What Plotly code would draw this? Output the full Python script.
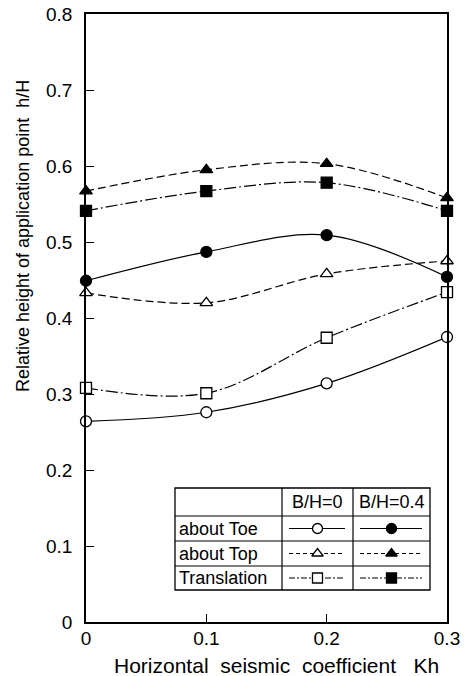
import plotly.graph_objects as go

# ---- data ----
kh = [0.0, 0.1, 0.2, 0.3]
toe_0 = [0.264, 0.276, 0.314, 0.375]
top_0 = [0.433, 0.420, 0.458, 0.475]
trans_0 = [0.308, 0.301, 0.374, 0.434]
toe_04 = [0.449, 0.487, 0.509, 0.454]
top_04 = [0.567, 0.595, 0.603, 0.558]
trans_04 = [0.541, 0.567, 0.578, 0.541]

y_ticks = [0, 0.1, 0.2, 0.3, 0.4, 0.5, 0.6, 0.7, 0.8]
y_ticktext = ["0", "0.1", "0.2", "0.3", "0.4", "0.5", "0.6", "0.7", "0.8"]
x_ticks = [0, 0.1, 0.2, 0.3]
x_ticktext = ["0", "0.1", "0.2", "0.3"]

row_labels = ["about Toe", "about Top", "Translation"]
col_labels = ["B/H=0", "B/H=0.4"]

FONT = "Liberation Sans, Arial, sans-serif"
W, H = 474, 676
L, R, T, B = 86, 447, 14, 622  # plot area in pixels

DASH_TOE = "solid"
DASH_TOP = "8px,4px"
DASH_TR = "12px,3px,2px,3px"

# (values, symbol, filled?, dash)
series = [
    (toe_0, "circle", False, DASH_TOE),
    (top_0, "triangle-up", False, DASH_TOP),
    (trans_0, "square", False, DASH_TR),
    (toe_04, "circle", True, DASH_TOE),
    (top_04, "triangle-up", True, DASH_TOP),
    (trans_04, "square", True, DASH_TR),
]

fig = go.Figure()
for ys, sym, filled, dash in series:
    fig.add_trace(go.Scatter(
        x=kh, y=ys, mode="lines+markers",
        line=dict(color="black", width=1.2, dash=dash, shape="spline", smoothing=1.0),
        marker=dict(symbol=sym, size=11, color="black" if filled else "white",
                    line=dict(color="black", width=1.3)),
        cliponaxis=False, showlegend=False, hoverinfo="skip",
    ))

# ---- legend table drawn on a pixel overlay axis ----
tx0, tx1, tx2, tx3 = 175, 282, 353, 430
ty = [488, 516, 541, 566, 590]
shapes = []
def line(x0, y0, x1, y1, dash="solid", w=1.2):
    shapes.append(dict(type="line", xref="x2", yref="y2", x0=x0, y0=y0, x1=x1, y1=y1,
                       layer="below", line=dict(color="black", width=w, dash=dash)))
shapes.append(dict(type="rect", xref="x2", yref="y2", x0=tx0, x1=tx3, y0=ty[0], y1=ty[-1],
                   line=dict(color="black", width=1.3), fillcolor="white", layer="below"))
for yy in ty[1:-1]:
    line(tx0, yy, tx3, yy)
line(tx1, ty[0], tx1, ty[-1])
line(tx2, ty[0], tx2, ty[-1])

annotations = []
for i, c in enumerate(col_labels):
    cx = (tx1 + tx2) / 2 if i == 0 else (tx2 + tx3) / 2
    annotations.append(dict(x=cx, y=(ty[0] + ty[1]) / 2, xref="x2", yref="y2", text=c,
                            xanchor="center", yanchor="middle",
                            showarrow=False, font=dict(family=FONT, size=18, color="black")))
leg_syms = ["circle", "triangle-up", "square"]
leg_dash = [DASH_TOE, "4px,3px", "6px,2px,2px,2px"]
mx, my, msym, mcol = [], [], [], []
for r, lab in enumerate(row_labels):
    cy = (ty[r + 1] + ty[r + 2]) / 2
    annotations.append(dict(x=tx0 + 2, y=cy, xref="x2", yref="y2", text=lab,
                            xanchor="left", yanchor="middle",
                            showarrow=False, font=dict(family=FONT, size=18, color="black")))
    for j, (a, b) in enumerate([(tx1, tx2), (tx2, tx3)]):
        line(a + 7, cy, b - 8, cy, dash=leg_dash[r], w=1.1)
        mx.append((a + b) / 2)
        my.append(cy)
        msym.append(leg_syms[r])
        mcol.append("white" if j == 0 else "black")

fig.add_trace(go.Scatter(
    x=mx, y=my, xaxis="x2", yaxis="y2", mode="markers",
    marker=dict(symbol=msym, size=10, color=mcol, line=dict(color="black", width=1.3)),
    showlegend=False, hoverinfo="skip", cliponaxis=False,
))

# axis titles (paper coordinates)
pw, ph = R - L, B - T
annotations.append(dict(x=(23 - L) / pw, y=(B - 236) / ph, xref="paper", yref="paper",
                        textangle=-90, xanchor="center", yanchor="middle",
                        text="Relative height of application point\u00a0\u00a0h/H",
                        showarrow=False, font=dict(family=FONT, size=18, color="black")))
annotations.append(dict(x=(276 - L) / pw, y=(B - 665) / ph, xref="paper", yref="paper",
                        xanchor="center", yanchor="middle",
                        text="Horizontal\u00a0 seismic\u00a0 coefficient\u00a0\u00a0 Kh",
                        showarrow=False, font=dict(family=FONT, size=21, color="black")))

fig.update_layout(
    width=W, height=H,
    margin=dict(l=L, r=W - R, t=T, b=H - B, pad=0, autoexpand=False),
    paper_bgcolor="white", plot_bgcolor="white",
    font=dict(family=FONT, size=19, color="black"),
    xaxis=dict(range=[0, 0.3], tickvals=x_ticks, ticktext=x_ticktext, ticks="inside",
               ticklen=8, tickcolor="black", tickwidth=1.2, showgrid=False, zeroline=False,
               showline=True, linecolor="black", linewidth=1.5, mirror=True,
               ticklabelstandoff=-2, tickfont=dict(family=FONT, size=19)),
    yaxis=dict(range=[0, 0.8], tickvals=y_ticks, ticktext=y_ticktext, ticks="inside",
               ticklen=8, tickcolor="black", tickwidth=1.2, showgrid=False, zeroline=False,
               showline=True, linecolor="black", linewidth=1.5, mirror=True,
               ticklabelstandoff=8, tickfont=dict(family=FONT, size=19)),
    xaxis2=dict(overlaying="x", anchor="y2", range=[L, R], visible=False, fixedrange=True),
    yaxis2=dict(overlaying="y", anchor="x2", range=[B, T], visible=False, fixedrange=True),
    shapes=shapes, annotations=annotations,
)

fig.write_html("out.html", config={"displayModeBar": False},
               post_script="document.body.style.margin='0px';")
